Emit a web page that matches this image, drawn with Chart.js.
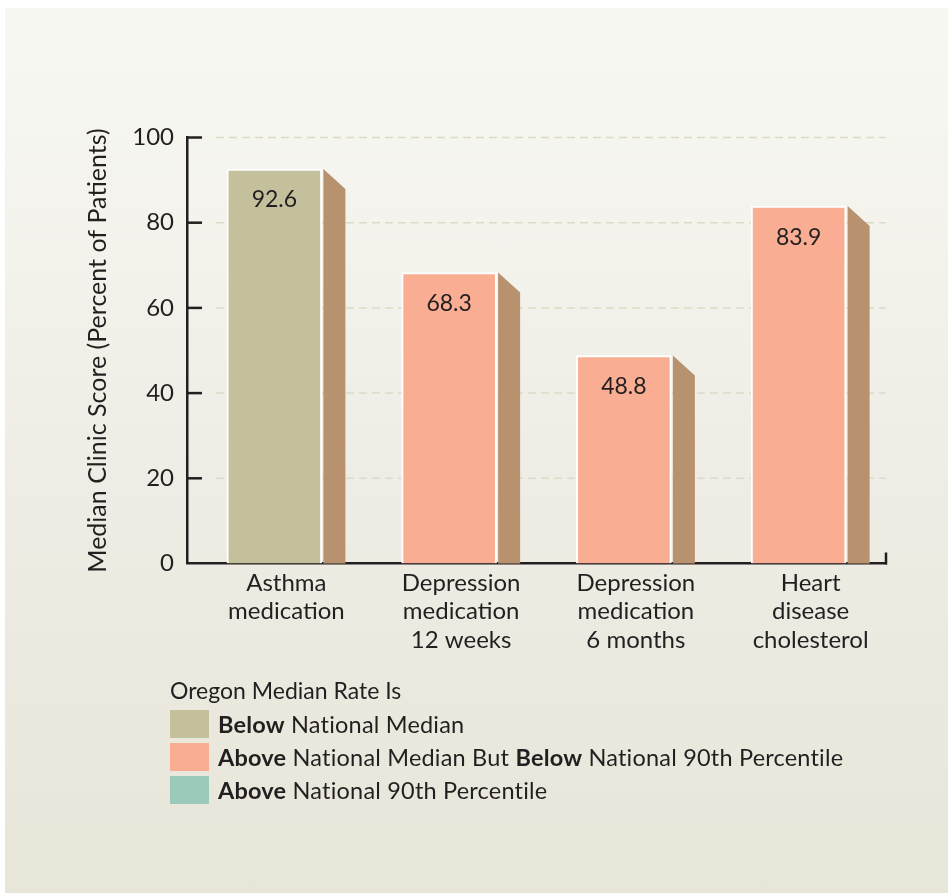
<!DOCTYPE html>
<html>
<head>
<meta charset="utf-8">
<script src="https://cdn.jsdelivr.net/npm/chart.js@4.4.1/dist/chart.umd.min.js"></script>
<style>
  body { margin: 0; background: #fff; font-family: Lato, sans-serif; color: #231f20; }
  #panel { position: absolute; left: 5px; top: 8px; width: 943px; height: 885px; background: linear-gradient(#f8f8f3, #eeece4 55%, #e8e5d9); }
  #chart { position: absolute; left: 0; top: 0; }
  #legendTitle { position: absolute; left: 170px; top: 675px; font-size: 23px; line-height: 30px; }
  .row { position: absolute; left: 170px; height: 28px; font-size: 23.5px; line-height: 28px; white-space: nowrap; }
  .sw { position: absolute; left: 0; top: 0; width: 39px; height: 28px; }
  .txt { position: absolute; left: 48px; top: 0; letter-spacing: 0.2px; }
  .txt b { font-weight: 700; }
</style>
</head>
<body>
<div id="panel"></div>
<canvas id="chart" width="948" height="893"></canvas>
<div id="legendTitle">Oregon Median Rate Is</div>
<div id="legend"></div>
<script>
// categorias e valores
var categories = [["Asthma", "medication"], ["Depression", "medication", "12 weeks"], ["Depression", "medication", "6 months"], ["Heart", "disease", "cholesterol"]];
var scores = [92.6, 68.3, 48.8, 83.9];
var scoreGroup = [0, 1, 1, 1];
var yTicks = [0, 20, 40, 60, 80, 100];

// legenda
var groupColors = ["#c4c09c", "#f9ae93", "#9ccaba"];
var groupLabels = [
    [["Below", true], [" National Median", false]],
    [["Above", true], [" National Median But ", false], ["Below", true], [" National 90th Percentile", false]],
    [["Above", true], [" National 90th Percentile", false]]
];
var sideColor = "#b8916f";
var ink = "#231f20";

Chart.defaults.font.family = "Lato, sans-serif";
Chart.defaults.color = ink;

// monta a legenda em html (tem partes em negrito)
var legend = document.getElementById("legend");
for (var i = 0; i < groupLabels.length; i++) {
    var row = document.createElement("div");
    row.className = "row";
    row.style.top = (710 + i * 33) + "px";
    var sw = document.createElement("div");
    sw.className = "sw";
    sw.style.background = groupColors[i];
    row.appendChild(sw);
    var txt = document.createElement("div");
    txt.className = "txt";
    for (var j = 0; j < groupLabels[i].length; j++) {
        var part = groupLabels[i][j];
        var el = document.createElement(part[1] ? "b" : "span");
        el.textContent = part[0];
        txt.appendChild(el);
    }
    row.appendChild(txt);
    legend.appendChild(row);
}

// grade tracejada, marcas do eixo, face lateral 3D e valores
var extras = {
    id: "extras",
    beforeDatasetsDraw: function (chart) {
        var ctx = chart.ctx, y = chart.scales.y, area = chart.chartArea;
        ctx.save();
        y.ticks.forEach(function (t) {
            if (t.value === 0) return;
            var py = y.getPixelForValue(t.value);
            ctx.strokeStyle = "#dcdbc8";
            ctx.lineWidth = 1.5;
            ctx.setLineDash([8, 5]);
            ctx.beginPath();
            ctx.moveTo(area.left + 29, py);
            ctx.lineTo(area.right, py);
            ctx.stroke();
            ctx.setLineDash([]);
            ctx.strokeStyle = ink;
            ctx.lineWidth = 2.5;
            ctx.beginPath();
            ctx.moveTo(area.left, py);
            ctx.lineTo(area.left + 15, py);
            ctx.stroke();
        });
        ctx.restore();
    },
    afterDatasetsDraw: function (chart) {
        var ctx = chart.ctx;
        var meta = chart.getDatasetMeta(0);
        ctx.save();
        meta.data.forEach(function (bar, i) {
            var p = bar.getProps(["x", "y", "base", "width"], true);
            var r = p.x + p.width / 2 + 1.5;
            ctx.fillStyle = sideColor;
            ctx.beginPath();
            ctx.moveTo(r, p.y);
            ctx.lineTo(r + 22, p.y + 20);
            ctx.lineTo(r + 22, p.base);
            ctx.lineTo(r, p.base);
            ctx.closePath();
            ctx.fill();

            ctx.fillStyle = ink;
            ctx.font = "23px Lato, sans-serif";
            ctx.textAlign = "center";
            ctx.textBaseline = "middle";
            ctx.fillText(scores[i].toFixed(1), p.x, p.y + 31);
        });
        ctx.restore();
    },
    afterDraw: function (chart) {
        var ctx = chart.ctx, area = chart.chartArea;
        ctx.save();
        ctx.strokeStyle = ink;
        ctx.lineWidth = 2.5;
        ctx.beginPath();
        ctx.moveTo(area.right, area.bottom + 1);
        ctx.lineTo(area.right, area.bottom - 11);
        ctx.stroke();
        ctx.restore();
    }
};

var ctx = document.getElementById("chart");

var chartGraph = new Chart(ctx, {
    type: "bar",
    data: {
        labels: categories,
        datasets: [{
            label: "Median Clinic Score",
            data: scores,
            backgroundColor: scoreGroup.map(function (g) { return groupColors[g]; }),
            borderColor: "#ffffff",
            borderWidth: { top: 2, left: 2, right: 2, bottom: 0 },
            borderSkipped: false,
            barThickness: 95
        }]
    },
    options: {
        responsive: false,
        animation: false,
        layout: {
            padding: { left: 0, right: 62, top: 137.5, bottom: 229.5 }
        },
        plugins: {
            legend: { display: false },
            tooltip: { enabled: false }
        },
        scales: {
            x: {
                grid: { display: false, drawTicks: false },
                border: { display: true, color: ink, width: 2.5 },
                ticks: { font: { size: 24, lineHeight: 1.19 }, color: ink, padding: 5, labelOffset: 12, maxRotation: 0, autoSkip: false },
                afterFit: function (scale) { scale.height = 100; }
            },
            y: {
                min: 0,
                max: 100,
                afterBuildTicks: function (scale) {
                    scale.ticks = yTicks.map(function (v) { return { value: v }; });
                },
                grid: { display: false, drawTicks: false },
                border: { display: true, color: ink, width: 2.5 },
                ticks: { font: { size: 24 }, color: ink, padding: 13 },
                title: {
                    display: true,
                    text: "Median Clinic Score (Percent of Patients)",
                    font: { size: 25 },
                    color: ink,
                    padding: { top: 83, bottom: 0 }
                },
                afterFit: function (scale) { scale.width = 187; }
            }
        }
    },
    plugins: [extras]
});
</script>
</body>
</html>
